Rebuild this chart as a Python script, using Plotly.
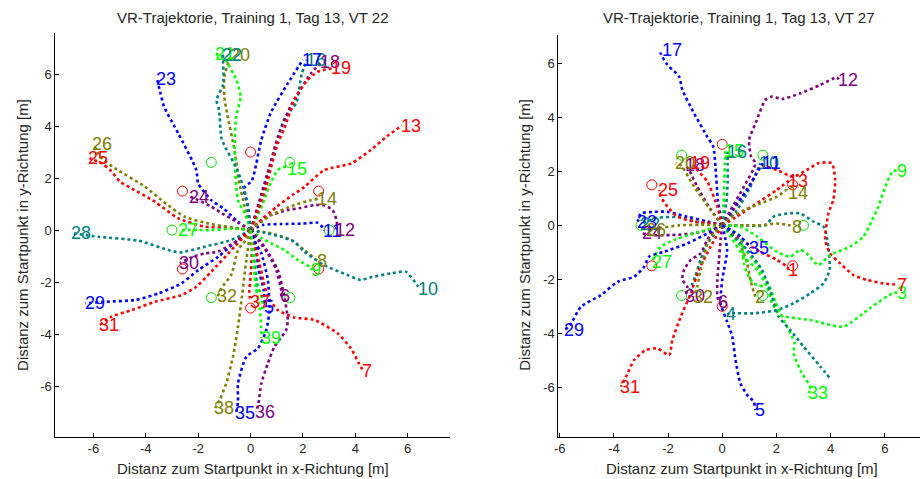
import plotly.graph_objects as go

# ---------------- data: left panel (VT 22) ----------------
L03 = [(0, 0), (0.15, -1.0), (0.25, -2.0), (0.45, -2.7), (0.45, -3.05)]
L04 = [(0, 0), (0.1, -1.0), (0.2, -1.8), (0.25, -2.4)]
L05 = [(0, 0), (0.2, -0.6), (0.3, -1.5), (0.5, -2.3), (0.55, -2.95)]
L06 = [(0, 0), (0.3, -0.4), (0.66, -0.9), (0.98, -1.54), (1.17, -2.31), (1.17, -2.55)]
L07 = [(0, 0), (0.15, -0.6), (0.34, -1.28), (0.5, -2.0), (0.66, -2.56), (1.04, -3.08), (1.67, -3.36),
       (2.43, -3.46), (3.32, -3.97), (3.83, -4.55), (4.14, -5.13), (4.3, -5.42)]
L08 = [(0, 0), (0.79, -0.13), (1.55, -0.38), (2.05, -0.77), (2.45, -1.1), (2.56, -1.2)]
L09 = [(0, 0), (0.4, -0.3), (0.79, -0.51), (1.29, -0.77), (1.8, -1.15), (2.3, -1.45), (2.35, -1.55)]
L10 = [(0, 0), (0.5, -0.1), (1.17, -0.26), (1.67, -0.45), (2.05, -0.83), (2.81, -1.35), (3.7, -1.73),
       (4.21, -1.92), (4.59, -1.82), (5.35, -1.67), (5.92, -1.6), (6.36, -2.12), (6.45, -2.25)]
L11 = [(0, 0), (0.5, 0.2), (1.17, 0.23), (2.0, 0.25), (2.56, 0.28), (2.75, 0.1), (2.8, -0.02)]
L12 = [(0, 0), (0.6, 0.5), (1.42, 0.77), (1.9, 0.85), (2.43, 0.96), (2.8, 0.95), (3.13, 0.77),
       (3.3, 0.3), (3.25, 0.02)]
L13 = [(0, 0), (0.27, 0.27), (1.0, 0.9), (1.6, 1.35), (2.05, 1.65), (2.8, 2.3), (3.83, 2.56),
       (4.59, 3.08), (5.2, 3.6), (5.78, 4.02)]
L14 = [(0, 0), (0.4, 0.3), (0.79, 0.58), (1.67, 0.96), (2.3, 1.15), (2.56, 1.2)]
L15 = [(0, 0), (0.2, 0.4), (0.47, 1.03), (0.79, 1.86), (1.04, 2.31), (1.36, 2.44), (1.42, 2.35)]
L16 = [(0, 0), (0.4, 1.2), (0.9, 3.0), (1.3, 4.3), (1.75, 4.9), (1.95, 6.0), (2.15, 6.55)]
L17 = [(0, 0), (-0.1, 0.9), (-0.25, 1.6), (0.05, 1.9), (0.41, 3.46), (0.79, 4.55), (1.42, 5.64),
       (2.0, 6.56)]
L18 = [(0, 0), (0.3, 1.0), (0.79, 2.69), (1.04, 3.59), (1.55, 4.81), (2.31, 6.03), (2.7, 6.45)]
L19 = [(0, 0), (0.3, 0.8), (0.6, 1.67), (0.79, 2.44), (1.04, 3.33), (1.29, 3.91), (1.67, 5.0),
       (2.12, 5.71), (2.56, 6.09), (3.12, 6.22)]
L20 = [(0, 0), (-0.2, 0.8), (-0.45, 1.9), (-0.6, 3.0), (-0.9, 4.5), (-1.0, 5.1), (-1.0, 5.9),
       (-0.75, 6.75)]
L21 = [(0, 0), (-0.2, 0.6), (-0.48, 1.15), (-0.61, 3.08), (-0.55, 4.36), (-0.38, 5.13),
       (-0.54, 5.77), (-1.0, 6.6), (-1.33, 6.78)]
L22 = [(0, 0), (-0.15, 1.2), (-0.5, 2.3), (-1.1, 3.5), (-1.2, 4.6), (-1.3, 5.0), (-1.05, 5.6),
       (-1.06, 6.75)]
L23 = [(0, 0), (-0.48, 0.32), (-1.0, 0.8), (-1.5, 1.15), (-2.0, 1.79), (-2.07, 2.31),
       (-2.76, 3.72), (-3.3, 4.74), (-3.45, 5.3), (-3.57, 5.82)]
L24 = [(0, 0), (-0.5, 0.3), (-0.99, 0.58), (-1.5, 0.9), (-2.0, 1.15), (-2.3, 1.28)]
L25 = [(0, 0), (-0.8, 0.1), (-1.75, 0.13), (-2.76, 0.45), (-3.65, 1.09), (-4.54, 1.6),
       (-4.98, 1.86), (-5.36, 2.31), (-5.68, 2.56), (-6.15, 2.76)]
L26 = [(0, 0), (-0.7, 0.1), (-1.5, 0.23), (-2.51, 0.51), (-3.4, 1.15), (-4.03, 1.67),
       (-5.17, 2.37), (-5.74, 2.82), (-6.0, 3.32)]
L27 = [(0, 0), (-0.7, 0.05), (-1.5, 0.0), (-2.0, 0.0), (-2.75, 0.0)]
L28 = [(0, 0), (-0.74, -0.38), (-1.75, -0.64), (-2.7, -0.86), (-3.14, -0.77), (-4.28, -0.41),
       (-5.8, -0.26), (-6.82, -0.12)]
L29 = [(0, 0), (-0.48, -0.38), (-1.24, -1.03), (-2.0, -1.54), (-2.64, -2.05), (-3.52, -2.44),
       (-4.41, -2.69), (-5.55, -2.76), (-6.3, -2.82)]
L30 = [(0, 0), (-0.5, -0.4), (-1.24, -0.83), (-1.75, -0.9), (-2.26, -1.05), (-2.7, -1.28)]
L31 = [(0, 0), (-0.61, -0.64), (-1.5, -1.6), (-2.07, -2.18), (-2.64, -2.5), (-3.65, -2.76),
       (-4.54, -3.08), (-5.3, -3.33), (-5.75, -3.65)]
L32 = [(0, 0), (-0.2, -0.4), (-0.48, -0.77), (-0.74, -1.73), (-1.12, -2.24), (-1.25, -2.55)]
L35 = [(0, 0), (0.2, -0.5), (0.41, -0.9), (0.66, -1.92), (0.72, -3.08), (0.6, -3.85), (0.28, -4.55),
       (-0.16, -4.87), (-0.48, -5.9), (-0.48, -6.6), (-0.55, -7.05)]
L36 = [(0, 0), (0.53, -0.64), (1.04, -1.54), (1.29, -2.56), (1.42, -3.46), (1.36, -3.85),
       (0.91, -4.49), (0.66, -5.13), (0.41, -5.9), (0.3, -6.67), (0.22, -7.0)]
L37 = [(0, 0), (0.05, -0.8), (0.0, -1.8), (-0.05, -2.4), (0.0, -2.75)]
L38 = [(0, 0), (-0.16, -1.15), (-0.33, -2.56), (-0.48, -3.72), (-0.67, -4.87), (-0.93, -5.9),
       (-1.18, -6.54), (-1.35, -6.85)]
L39 = [(0, 0), (0.05, -0.4), (0.1, -1.2), (0.2, -2.2), (0.35, -3.0), (0.4, -3.7), (0.42, -4.15)]

left_ids = [3, 4, 5, 6, 7, 8, 9, 10, 11, 12, 13, 14, 15, 16, 17, 18, 19, 20, 21, 22, 23, 24,
            25, 26, 27, 28, 29, 30, 31, 32, 35, 36, 37, 38, 39]
left_paths = [L03, L04, L05, L06, L07, L08, L09, L10, L11, L12, L13, L14, L15, L16, L17, L18,
              L19, L20, L21, L22, L23, L24, L25, L26, L27, L28, L29, L30, L31, L32, L35, L36,
              L37, L38, L39]
left_labelled = [5, 6, 7, 8, 9, 10, 11, 12, 13, 14, 15, 16, 17, 18, 19, 20, 21, 22, 23, 24, 25,
                 26, 27, 28, 29, 30, 31, 32, 35, 36, 37, 38, 39]

# ---------------- data: right panel (VT 27) ----------------
R01 = [(0, 0), (0.67, -0.54), (1.41, -0.98), (2.02, -1.28), (2.39, -1.53), (2.45, -1.65)]
R02 = [(0, 0), (0.55, -0.54), (0.8, -1.04), (0.92, -1.41), (1.04, -2.02), (1.16, -2.46), (1.23, -2.64)]
R03 = [(0, 0), (0.31, -0.42), (0.8, -1.16), (1.29, -1.65), (1.65, -2.27), (1.84, -2.89), (2.14, -3.32),
       (3.25, -3.51), (4.47, -3.75), (5.45, -3.07), (6.31, -2.5), (6.5, -2.5)]
R04 = [(0, 0), (0.8, 0.0), (1.59, 0.0), (1.9, 0.32), (2.39, 0.44), (2.88, 0.44), (3.37, 0.14),
       (3.74, -0.05), (3.92, -0.79), (3.96, -1.65), (3.74, -2.15), (3.25, -2.52), (2.63, -2.89),
       (2.02, -3.14), (1.16, -3.26), (0.31, -3.26), (0.18, -3.3)]
R05 = [(0, 0), (0.18, -0.91), (0.0, -2.02), (-0.06, -2.89), (0.18, -3.57), (0.37, -4.12),
       (0.49, -4.99), (0.67, -5.85), (0.92, -6.28), (1.16, -6.53), (1.23, -6.84)]
R06 = [(0, 0), (-0.06, -0.54), (-0.12, -1.28), (-0.18, -2.02), (-0.18, -2.64), (-0.12, -2.83)]
R07 = [(0, 0), (0.5, 0.7), (1.1, 1.6), (1.45, 2.2), (2.02, 2.05), (2.63, 1.8), (3.12, 2.05),
       (3.55, 2.3), (4.04, 2.3), (4.17, 1.68), (4.1, 0.94), (3.92, 0.44), (3.8, -0.54),
       (3.98, -1.04), (4.35, -1.41), (4.84, -1.84), (5.33, -2.02), (5.94, -2.15), (6.5, -2.2)]
R08 = [(0, 0), (0.8, 0.0), (1.41, 0.0), (2.02, 0.07), (2.5, 0.0), (2.63, -0.05)]
R09 = [(0, 0), (0.67, -0.05), (1.29, -0.42), (2.02, -0.98), (2.51, -1.16), (2.88, -0.91),
       (3.12, -1.04), (3.55, -1.47), (3.98, -1.1), (4.72, -0.79), (5.21, -0.42), (5.51, 0.14),
       (5.76, 0.69), (6.07, 1.56), (6.31, 2.02), (6.5, 2.0)]
R10 = [(0, 0), (0.5, 0.5), (1.0, 1.35), (1.3, 2.05), (1.4, 2.3)]
R11 = [(0, 0), (0.4, 0.6), (0.9, 1.3), (1.25, 1.9), (1.5, 2.3)]
R12 = [(0, 0), (0.31, 0.57), (0.8, 1.43), (1.23, 2.3), (1.07, 2.54), (0.99, 3.16), (1.23, 3.78),
       (1.59, 4.64), (1.84, 4.77), (2.21, 4.68), (2.88, 4.89), (3.62, 5.2), (4.23, 5.48), (4.3, 5.4)]
R13 = [(0, 0), (0.5, 0.3), (1.4, 0.9), (2.0, 1.3), (2.45, 1.65)]
R14 = [(0, 0), (0.18, 0.2), (0.8, 0.56), (1.41, 0.81), (2.02, 1.06), (2.39, 1.31), (2.45, 1.19)]
R15 = [(0, 0), (0.05, 0.8), (0.08, 1.6), (0.1, 2.3), (0.12, 2.75)]
R16 = [(0, 0), (0.15, 0.8), (0.2, 1.6), (0.2, 2.3), (0.2, 2.73)]
R17 = [(0, 0), (-0.16, 0.94), (-0.25, 2.17), (-0.33, 2.91), (-0.55, 3.28), (-1.04, 4.15),
       (-1.47, 5.01), (-1.59, 5.51), (-2.02, 5.94), (-2.27, 6.37), (-2.2, 6.5)]
R18 = [(0, 0), (-0.5, 0.7), (-0.92, 1.43), (-1.2, 2.0), (-1.35, 2.23)]
R19 = [(0, 0), (-0.18, 0.69), (-0.55, 1.62), (-1.04, 2.17), (-1.16, 2.3)]
R20 = [(0, 0), (-0.43, 0.57), (-1.04, 1.43), (-1.53, 2.23), (-1.72, 2.3)]
R21 = [(0, 0), (0.67, -0.4), (0.8, -1.41), (0.92, -1.78), (1.16, -2.15), (1.53, -2.27)]
R22 = [(0, 0), (-0.8, 0.1), (-1.6, 0.3), (-2.4, 0.28), (-3.0, 0.05)]
R23 = [(0, 0), (-0.55, 0.14), (-1.29, 0.32), (-2.02, 0.5), (-2.51, 0.5), (-3.0, 0.44), (-3.12, 0.14)]
R24 = [(0, 0), (-0.31, -0.11), (-1.04, -0.3), (-1.9, -0.36), (-2.63, -0.36), (-2.94, -0.3)]
R25 = [(0, 0), (-0.31, 0.07), (-1.04, 0.14), (-1.65, 0.32), (-2.02, 0.69), (-2.27, 1.06), (-2.33, 1.31)]
R26 = [(0, 0), (-0.8, 0.02), (-1.6, 0.0), (-2.3, -0.1), (-2.76, -0.17)]
R27 = [(0, 0), (-1.04, -0.3), (-1.78, -0.54), (-2.27, -0.79), (-2.5, -1.16), (-2.57, -1.35)]
R28 = [(0, 0), (-0.55, -0.67), (-0.8, -1.28), (-1.0, -1.9), (-1.2, -2.4)]
R29 = [(0, 0), (-0.55, -0.3), (-1.29, -0.67), (-2.14, -0.98), (-2.7, -1.16), (-2.88, -1.53),
       (-3.25, -1.9), (-3.86, -2.09), (-4.47, -2.58), (-5.21, -3.01), (-5.58, -3.63), (-5.8, -3.88)]
R30 = [(0, 0), (-0.18, -0.05), (-0.55, -0.54), (-0.8, -1.04), (-1.16, -1.28), (-1.41, -1.65),
       (-1.47, -2.02), (-1.29, -2.27), (-1.35, -2.6)]
R31 = [(0, 0), (-0.43, -0.79), (-0.86, -1.65), (-1.16, -2.52), (-1.53, -3.38), (-1.84, -4.25),
       (-1.96, -4.81), (-2.39, -4.56), (-2.82, -4.62), (-3.25, -4.99), (-3.49, -5.48), (-3.74, -5.98)]
R32 = [(0, 0), (-0.31, -0.3), (-0.55, -0.67), (-0.67, -1.16), (-0.8, -1.65), (-0.92, -2.27), (-1.04, -2.64)]
R33 = [(0, 0), (0.8, -0.85), (1.29, -1.47), (1.72, -2.21), (1.96, -2.83), (2.33, -3.63), (2.67, -4.37),
       (2.63, -4.74), (2.94, -5.48), (3.25, -5.98), (3.2, -6.22)]
R34 = [(0, 0), (0.92, -0.91), (1.47, -1.65), (1.84, -2.64), (2.08, -3.38), (2.51, -3.88), (3.0, -4.49),
       (3.62, -5.23), (3.98, -5.67)]
R35 = [(0, 0), (0.31, -0.17), (0.67, -0.42), (0.92, -0.67), (1.04, -0.85)]

right_ids = list(range(1, 36))
right_paths = [R01, R02, R03, R04, R05, R06, R07, R08, R09, R10, R11, R12, R13, R14, R15, R16, R17,
               R18, R19, R20, R21, R22, R23, R24, R25, R26, R27, R28, R29, R30, R31, R32, R33, R34, R35]
right_labelled = [1, 2, 3, 4, 5, 6, 7, 8, 9, 10, 11, 12, 13, 14, 15, 16, 17, 18, 19, 20, 22, 23,
                  24, 25, 26, 27, 29, 30, 31, 32, 33, 35]

# target circles (radius 3 m around start)
circle_x = [3.0, 2.6, 1.5, 0.0, -1.5, -2.6, -3.0, -2.6, -1.5, 0.0, 1.5, 2.6]
circle_y = [0.0, 1.5, 2.6, 3.0, 2.6, 1.5, 0.0, -1.5, -2.6, -3.0, -2.6, -1.5]
circle_c = ["g", "r", "g", "r", "g", "r", "g", "r", "g", "r", "g", "r"]

titles = ["VR-Trajektorie, Training 1, Tag 13, VT 22", "VR-Trajektorie, Training 1, Tag 13, VT 27"]
x_title = "Distanz zum Startpunkt in x-Richtung [m]"
y_title = "Distanz zum Startpunkt in y-Richtung [m]"
ticks = [-6, -4, -2, 0, 2, 4, 6]

# ---------------- styling ----------------
PALETTE = {1: "#ff0000", 2: "#808000", 3: "#00ff00", 4: "#008080", 5: "#0000ff", 0: "#800080"}
CIRC = {"r": "#ff0000", "g": "#00e000"}
FONT = "Liberation Sans, Arial, sans-serif"

fig = go.Figure()
annotations = []

panels = [
    (left_ids, left_paths, left_labelled, "x", "y"),
    (right_ids, right_paths, right_labelled, "x2", "y2"),
]

for ids, paths, labelled, xa, ya in panels:
    fig.add_trace(go.Scatter(
        x=circle_x, y=circle_y, mode="markers", xaxis=xa, yaxis=ya, hoverinfo="skip",
        marker=dict(symbol="circle-open", size=10, color=[CIRC[c] for c in circle_c],
                    line=dict(width=1, color=[CIRC[c] for c in circle_c])),
        showlegend=False))
    for tid, pts in zip(ids, paths):
        col = PALETTE[tid % 6]
        xs = [p[0] for p in pts]
        ys = [p[1] for p in pts]
        fig.add_trace(go.Scatter(
            x=xs, y=ys, mode="lines", xaxis=xa, yaxis=ya,
            line=dict(color=col, width=2.6, dash="dot", shape="spline", smoothing=0.6),
            showlegend=False, hoverinfo="skip"))
    for tid, pts in zip(ids, paths):
        if tid not in labelled:
            continue
        ex, ey = pts[-1]
        annotations.append(dict(
            x=ex, y=ey, xref=xa, yref=ya, text=str(tid), showarrow=False,
            xanchor="left", yanchor="middle", xshift=-3,
            font=dict(family=FONT, size=18, color=PALETTE[tid % 6])))

axis_common = dict(showline=True, linecolor="#000000", linewidth=1, ticks="inside", ticklen=4,
                   tickcolor="#000000", showgrid=False, zeroline=False, mirror=False,
                   tickvals=ticks, ticktext=[str(t) for t in ticks],
                   tickfont=dict(family=FONT, size=13, color="#262626"))

fig.update_layout(
    width=921, height=479, margin=dict(l=0, r=0, t=0, b=0),
    paper_bgcolor="white", plot_bgcolor="white",
    xaxis=dict(domain=[0.0561, 0.4868], range=[-7.45, 7.63], anchor="y", **axis_common),
    yaxis=dict(domain=[0.0883, 0.9311], range=[-7.95, 7.58], anchor="x", **axis_common),
    xaxis2=dict(domain=[0.6045, 0.9989], range=[-6.05, 7.3], anchor="y2", **axis_common),
    yaxis2=dict(domain=[0.0883, 0.9269], range=[-7.83, 7.05], anchor="x2", **axis_common),
)

# titles and axis titles
tfont = dict(family=FONT, size=15, color="#262626")
for cx, ttl in zip([250 / 921, 738 / 921], titles):
    annotations.append(dict(x=cx, y=1 - 17 / 479, xref="paper", yref="paper", text=ttl,
                            showarrow=False, xanchor="center", yanchor="middle", font=tfont))
for cx in [250 / 921, 741 / 921]:
    annotations.append(dict(x=cx, y=1 - 468 / 479, xref="paper", yref="paper", text=x_title,
                            showarrow=False, xanchor="center", yanchor="middle", font=tfont))
for cx, cy in [(18 / 921, 1 - 235 / 479), (522 / 921, 1 - 235 / 479)]:
    annotations.append(dict(x=cx, y=cy, xref="paper", yref="paper", text=y_title, textangle=-90,
                            showarrow=False, xanchor="center", yanchor="middle", font=tfont))

fig.update_layout(annotations=annotations)
fig.write_html("out.html")
